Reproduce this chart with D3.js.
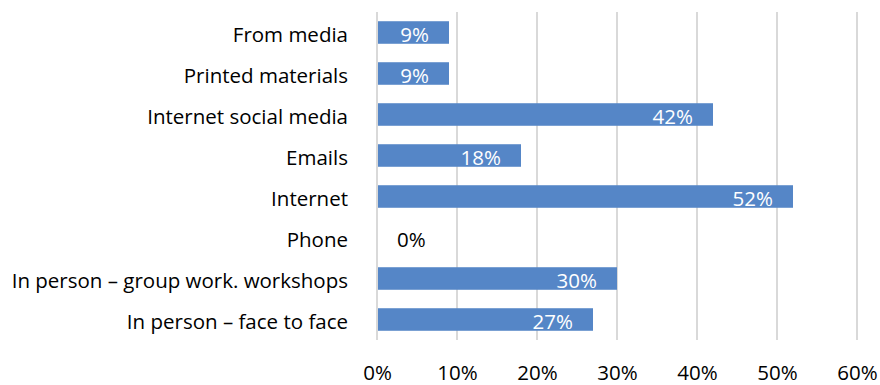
<!DOCTYPE html>
<html>
<head>
<meta charset="utf-8">
<script src="https://cdn.jsdelivr.net/npm/d3@7"></script>
<style>
  html, body { margin: 0; padding: 0; background: #fff; }
  svg { display: block; }
  text { font-family: "Open Sans", "Liberation Sans", sans-serif; }
</style>
</head>
<body>
<svg id="chart" width="880" height="385"></svg>
<script>
// Channels, listed from top to bottom
const categories = [
  "From media",
  "Printed materials",
  "Internet social media",
  "Emails",
  "Internet",
  "Phone",
  "In person \u2013 group work. workshops",
  "In person \u2013 face to face"
];
// Share of respondents per channel (%)
const values = [9, 9, 42, 18, 52, 0, 30, 27];
// Horizontal axis ticks (%)
const tickValues = [0, 10, 20, 30, 40, 50, 60];

const svg = d3.select("#chart");
const W = 880, H = 385;
const margin = { top: 12, right: 23, bottom: 45, left: 377 };
const innerW = W - margin.left - margin.right;
const innerH = H - margin.top - margin.bottom;

const barColor = "#5586c7";
const gridColor = "#d9d9d9";
const fontSize = 20.5;

const x = d3.scaleLinear().domain([0, 60]).range([0, 480]);
const y = d3.scaleBand().domain(categories).range([0, innerH]).paddingInner(0.45).paddingOuter(0.225);

const g = svg.append("g").attr("transform", `translate(${margin.left},${margin.top})`);

// vertical gridlines
g.append("g")
  .selectAll("line")
  .data(tickValues)
  .join("line")
  .attr("x1", d => x(d)).attr("x2", d => x(d))
  .attr("y1", 0).attr("y2", innerH)
  .attr("stroke", gridColor)
  .attr("stroke-width", 2);

// bars
const rows = categories.map((c, i) => ({ c, v: values[i] }));
g.append("g")
  .selectAll("rect")
  .data(rows)
  .join("rect")
  .attr("x", x(0) + 1)
  .attr("y", d => y(d.c))
  .attr("width", d => Math.max(0, x(d.v) - x(0) - 1))
  .attr("height", y.bandwidth())
  .attr("fill", barColor);

// value labels at the inner end of each bar
g.append("g")
  .selectAll("text")
  .data(rows)
  .join("text")
  .attr("x", d => d.v > 0 ? x(d.v) - 20 : x(0) + 20)
  .attr("y", d => y(d.c) + y.bandwidth() / 2 + 9)
  .attr("text-anchor", d => d.v > 0 ? "end" : "start")
  .attr("fill", d => d.v > 0 ? "#ffffff" : "#000000")
  .attr("font-size", fontSize)
  .text(d => d.v + "%");

// category labels
const yAxis = d3.axisLeft(y).tickSize(0).tickPadding(29);
g.append("g")
  .call(yAxis)
  .call(s => s.select(".domain").remove())
  .selectAll("text")
  .attr("font-size", fontSize)
  .attr("fill", "#000")
  .attr("font-family", null)
  .attr("dy", null)
  .attr("y", 9);

// horizontal axis labels
const xAxis = d3.axisBottom(x).tickValues(tickValues).tickSize(0).tickPadding(0).tickFormat(d => d + "%");
g.append("g")
  .attr("transform", `translate(0,${innerH})`)
  .call(xAxis)
  .call(s => s.select(".domain").remove())
  .selectAll("text")
  .attr("font-size", fontSize)
  .attr("fill", "#000")
  .attr("font-family", null)
  .attr("dy", null)
  .attr("y", 40);
</script>
</body>
</html>
